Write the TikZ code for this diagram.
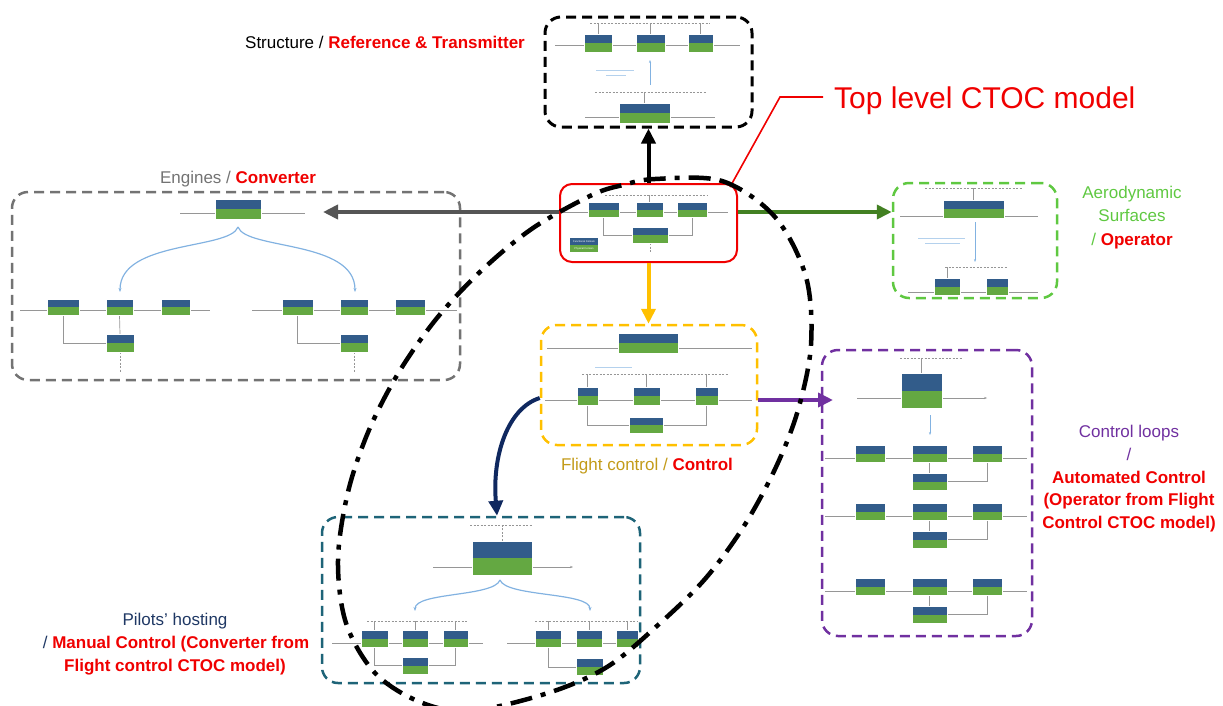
\documentclass[tikz,border=0pt]{standalone}
\usepackage{fontspec}
\setmainfont{Liberation Sans}
\usetikzlibrary{arrows.meta,backgrounds}
\definecolor{cblue}{RGB}{50,92,138}
\definecolor{cgreen}{RGB}{100,168,66}
\definecolor{lblue}{RGB}{130,178,225}
\definecolor{tgray}{RGB}{150,150,150}
\definecolor{engray}{RGB}{115,115,115}
\definecolor{arrgray}{RGB}{85,85,85}
\definecolor{aerogreen}{RGB}{95,200,65}
\definecolor{arrgreen}{RGB}{66,128,34}
\definecolor{fcyellow}{RGB}{255,192,0}
\definecolor{fctext}{RGB}{195,155,25}
\definecolor{clpurple}{RGB}{112,48,160}
\definecolor{pteal}{RGB}{30,100,120}
\definecolor{pnavy}{RGB}{15,40,95}
\definecolor{ptext}{RGB}{31,56,100}
\definecolor{cred}{RGB}{240,0,0}
\begin{document}
\begin{tikzpicture}[x=1pt,y=-1pt,
  blk/.style 2 args={draw=white, line width=0.3pt, fill=cgreen, inner sep=0pt,
    minimum width=#1pt, minimum height=#2pt,
    path picture={\fill[cblue] (path picture bounding box.north west) rectangle (path picture bounding box.east);}},
  bus/.style={draw=tgray, line width=0.7pt},
  dbus/.style={draw=tgray, line width=0.7pt, dash pattern=on 2pt off 1.5pt},
  tick/.style={draw=tgray, line width=0.5pt},
  bigbox/.style={draw=#1, line width=2.5pt, dash pattern=on 10pt off 6pt, rounded corners=16pt, inner sep=0pt},
  bigarrow/.style={draw=#1, line width=4pt, -{Triangle[length=15pt,width=14pt]}},
  lbl/.style={inner sep=0pt, anchor=base, font=\fontsize{17}{20}\selectfont},
  lblb/.style={inner sep=0pt, anchor=base, text=cred, font=\fontsize{17}{20}\selectfont\bfseries},
  brace/.style={draw=lblue, line width=1.2pt},
  dashdot/.style={draw=black, line width=4.5pt, dash pattern=on 22pt off 9pt on 5pt off 9pt},
]
\useasboundingbox (0,0) rectangle (1223,705);
\clip (0,0) rectangle (1223,705);

% ---------------- big boxes ----------------
\node[bigbox=black, line width=3pt, minimum width=207pt, minimum height=110pt] (struct) at (648.5,72) {};
\node[draw=cred, line width=2pt, rounded corners=12pt, inner sep=0pt, minimum width=177pt, minimum height=78pt] (top) at (648.5,223) {};
\node[bigbox=engray, minimum width=448pt, minimum height=188pt] (eng) at (236,286) {};
\node[bigbox=aerogreen, minimum width=164pt, minimum height=115pt] (aero) at (975,240.5) {};
\node[bigbox=fcyellow, minimum width=216pt, minimum height=120pt] (fc) at (649,385) {};
\node[bigbox=clpurple, minimum width=210pt, minimum height=286pt] (cl) at (927,493) {};
\node[bigbox=pteal, minimum width=318pt, minimum height=166pt] (pil) at (481,600) {};

% ---------------- structure thumbnail ----------------
\node[blk={28}{18}] (s1) at (598,43) {};
\node[blk={29}{18}] (s2) at (650.5,43) {};
\node[blk={25}{18}] (s3) at (700.5,43) {};
\node[blk={51}{20}] (s4) at (644.5,113) {};
\begin{scope}[on background layer]
  \draw[bus] (555,45) -- (740,45);
  \draw[dbus] (590,23) -- (710,23);
  \foreach \n in {s1,s2,s3} \draw[tick] (\n.north) -- (\n.north |- 0,23);
  \draw[lblue, line width=0.8pt, -{Stealth[length=3pt]}] (650,85) -- (650,60);
  \draw[lblue!60, line width=1pt] (596,70) -- (634,70) (606,75) -- (626,75);
  \draw[dbus] (595,92) -- (707,92);
  \draw[tick] (s4.north) -- (s4.north |- 0,92);
  \draw[bus] (585,117) -- (715,117);
\end{scope}

% ---------------- top level thumbnail ----------------
\node[blk={31}{15}] (c1) at (603.5,209.5) {};
\node[blk={27}{15}] (c2) at (649.5,209.5) {};
\node[blk={30}{15}] (c3) at (692,209.5) {};
\node[blk={36}{16}] (c4) at (650,235) {};
\node[fill=cblue, inner sep=0pt, minimum width=28pt, minimum height=6.5pt, text=white, font=\fontsize{2.6}{3}\selectfont] (legf) at (584,241.5) {Functional Domain};
\node[fill=cgreen, inner sep=0pt, minimum width=28pt, minimum height=6.5pt, text=white, font=\fontsize{2.6}{3}\selectfont, anchor=north] (legp) at (legf.south) {Physical Domain};
\begin{scope}[on background layer]
  \draw[bus] (562,212) -- (728,212);
  \draw[dbus] (605,195) -- (707,195);
  \draw[tick] (c2.north) -- (c2.north |- 0,195);
  \draw[bus] (c1.south) |- (c4.west);
  \draw[bus] (c4.east) -| (c3.south);
  \draw[dbus] (c4.south) -- ++(0,9);
\end{scope}

% ---------------- engines thumbnail ----------------
\node[blk={46}{20}] (e0) at (238,209) {};
\node[blk={32}{16}] (l1) at (63,307) {};
\node[blk={27}{16}] (l2) at (119.5,307) {};
\node[blk={29}{16}] (l3) at (175.5,307) {};
\node[blk={28}{18}] (l4) at (120,343) {};
\node[blk={31}{16}] (r1) at (297.5,307) {};
\node[blk={28}{16}] (r2) at (354,307) {};
\node[blk={30}{16}] (r3) at (410,307) {};
\node[blk={28}{18}] (r4) at (354,343) {};
\begin{scope}[on background layer]
  \draw[bus] (180,213) -- (305,213);
  \draw[bus] (20,310) -- (210,310);
  \draw[bus] (252,310) -- (457,310);
  \draw[bus] (l1.south) |- (l4.west);
  \draw[bus] (l2.south) -- (l4.north);
  \draw[dbus] (l4.south) -- ++(0,20);
  \draw[bus] (r1.south) |- (r4.west);
  \draw[dbus] (r4.south) -- ++(0,20);
  \draw[brace, -{Stealth[length=4pt]}] (238,227) .. controls (230,250) and (120,240) .. (120,292);
  \draw[brace, -{Stealth[length=4pt]}] (238,227) .. controls (246,250) and (355,240) .. (355,292);
\end{scope}

% ---------------- aerodynamic thumbnail ----------------
\node[blk={61}{18}] (a0) at (973.5,209) {};
\node[blk={26}{17}] (a1) at (947,286.5) {};
\node[blk={22}{17}] (a2) at (997,286.5) {};
\begin{scope}[on background layer]
  \draw[dbus] (925,188) -- (1022,188);
  \draw[tick] (a0.north) -- (a0.north |- 0,188);
  \draw[bus] (900,216) -- (1038,216);
  \draw[lblue, line width=0.8pt, -{Stealth[length=3pt]}] (975,222) -- (975,262);
  \draw[lblue!60, line width=1pt] (918,238) -- (965,238) (925,243) -- (960,243);
  \draw[dbus] (945,267) -- (1008,267);
  \draw[tick] (a1.north) -- (a1.north |- 0,267);
  \draw[bus] (908,292) -- (1038,292);
\end{scope}

% ---------------- flight control thumbnail ----------------
\node[blk={60}{20}] (f0) at (648,343) {};
\node[blk={21}{18}] (f1) at (587.5,396) {};
\node[blk={27}{18}] (f2) at (646.5,396) {};
\node[blk={23}{18}] (f3) at (706.5,396) {};
\node[blk={34}{16}] (f4) at (646,425) {};
\begin{scope}[on background layer]
  \draw[bus] (547,348) -- (752,348);
  \draw[lblue!60, line width=1pt] (595,367) -- (632,367);
  \draw[dbus] (582,374) -- (728,374);
  \foreach \n in {f1,f2,f3} \draw[tick] (\n.north) -- (\n.north |- 0,374);
  \draw[bus] (545,400) -- (752,400);
  \draw[bus] (f1.south) |- (f4.west);
  \draw[bus] (f4.east) -| (f3.south);
\end{scope}

% ---------------- control loops thumbnail ----------------
\node[blk={41}{35}] (k0) at (921.5,390.5) {};
\begin{scope}[on background layer]
  \draw[dbus] (900,358) -- (962,358);
  \draw[tick] (k0.north) -- (k0.north |- 0,358);
  \draw[bus, -{Stealth[length=3pt]}] (857,398) -- (987,398);
  \draw[lblue, line width=0.8pt, -{Stealth[length=3pt]}] (930,415) -- (930,435);
\end{scope}
\foreach \t/\i in {445/1,503/2,578/3}{
  \node[blk={30}{17}] (kA\i) at (870,{\t+8.5}) {};
  \node[blk={35}{17}] (kB\i) at (929.5,{\t+8.5}) {};
  \node[blk={30}{17}] (kC\i) at (987,{\t+8.5}) {};
  \node[blk={35}{17}] (kD\i) at (929.5,{\t+36.5}) {};
  \begin{scope}[on background layer]
    \draw[bus] (825,{\t+13}) -- (1027,{\t+13});
    \draw[bus] (kB\i.south) -- (kD\i.north);
    \draw[bus] (kD\i.east) -| (kC\i.south);
  \end{scope}
}

% ---------------- pilots thumbnail ----------------
\node[blk={60}{34}] (p0) at (502,558) {};
\node[blk={27}{17}] (pl1) at (374.5,638.5) {};
\node[blk={26}{17}] (pl2) at (415,638.5) {};
\node[blk={25}{17}] (pl3) at (455.5,638.5) {};
\node[blk={26}{17}] (pl4) at (415,665.5) {};
\node[blk={26}{17}] (pr1) at (548,638.5) {};
\node[blk={26}{17}] (pr2) at (589,638.5) {};
\node[blk={22}{17}] (pr3) at (627,638.5) {};
\node[blk={27}{17}] (pr4) at (589.5,667) {};
\begin{scope}[on background layer]
  \draw[dbus] (470,525) -- (533,525);
  \draw[dbus] (p0.north) -- (p0.north |- 0,525);
  \draw[bus, -{Stealth[length=3pt]}] (433,567) -- (573,567);
  \draw[brace, -{Stealth[length=4pt]}] (500,580) .. controls (494,597) and (415,592) .. (415,611);
  \draw[brace, -{Stealth[length=4pt]}] (500,580) .. controls (506,597) and (590,592) .. (590,611);
  \draw[dbus] (367,621) -- (467,621);
  \foreach \n in {pl1,pl2,pl3} \draw[tick] (\n.north) -- (\n.north |- 0,621);
  \draw[bus] (332,643) -- (483,643);
  \draw[bus] (pl1.south) |- (pl4.west);
  \draw[bus] (pl4.east) -| (pl3.south);
  \draw[dbus] (535,621) -- (638,621);
  \foreach \n in {pr1,pr2,pr3} \draw[tick] (\n.north) -- (\n.north |- 0,621);
  \draw[bus] (507,643) -- (638,643);
  \draw[bus] (pr1.south) |- (pr4.west);
\end{scope}

% ---------------- main arrows ----------------
\coordinate (engtip) at (323,212);
\coordinate (cltip) at (833,400);
\draw[bigarrow=black] (top.north) -- (struct.south);
\draw[bigarrow=arrgray] (top.west |- 0,212) -- (engtip);
\draw[bigarrow=arrgreen] (top.east |- 0,212) -- (aero.west |- 0,212);
\draw[bigarrow=fcyellow] (top.south) -- (top.south |- fc.north);
\draw[bigarrow=clpurple] (fc.east |- 0,400) -- (cltip);
\draw[bigarrow=pnavy] (fc.west |- 0,398) .. controls (508,408) and (492,455) .. (pil.north -| 497,0);

% ---------------- red leader and title ----------------
\coordinate (ldA) at (730,187);
\coordinate (ldB) at (780,97);
\coordinate (ldC) at (823,97);
\draw[cred, line width=1.6pt] (ldA) -- (ldB) -- (ldC);
\node[inner sep=0pt, anchor=base west, text=cred, font=\fontsize{30}{32}\selectfont] (ttl) at (834,108) {Top level CTOC model};

% ---------------- labels ----------------
\node[lbl] (lstruct) at (385,48) {Structure / \textcolor{cred}{\bfseries Reference \& Transmitter}};
\node[lbl] (leng) at (238,183) {\textcolor{engray}{Engines /} \textcolor{cred}{\bfseries Converter}};
\node[lbl, text=aerogreen] (laero1) at (1132,198) {Aerodynamic};
\node[lbl, text=aerogreen] (laero2) at (1132,221) {Surfaces};
\node[lbl, text=aerogreen] (laero3) at (1132,245) {/ \textcolor{cred}{\bfseries Operator}};
\node[lbl, text=fctext] (lfc) at (647,470) {Flight control / \textcolor{cred}{\bfseries Control}};
\node[lbl, text=clpurple] (lcl1) at (1129,437) {Control loops};
\node[lbl, text=clpurple] (lcl2) at (1129,460) {/};
\node[lblb] (lcl3) at (1129,483) {Automated Control};
\node[lblb] (lcl4) at (1129,505) {(Operator from Flight};
\node[lblb] (lcl5) at (1129,528) {Control CTOC model)};
\node[lbl, text=ptext] (lp1) at (175,625) {Pilots' hosting};
\node[lbl, text=ptext] (lp2) at (176,648) {/ \textcolor{cred}{\bfseries Manual Control (Converter from}};
\node[lblb] (lp3) at (175,671) {Flight control CTOC model)};

% ---------------- dash-dot loop ----------------
\draw[dashdot] plot[smooth cycle, tension=0.55] coordinates {
  (655,179) (722,181) (775,217) (806,277) (811,345) (798,410) (776,467)
  (744,526) (705,579) (658,625) (607,667) (548,693) (470,711) (420,702)
  (375,673) (346,623) (338,560) (348,492) (369,430) (399,372) (437,318)
  (482,270) (533,228) (592,195) (623,185)};
\end{tikzpicture}
\end{document}
